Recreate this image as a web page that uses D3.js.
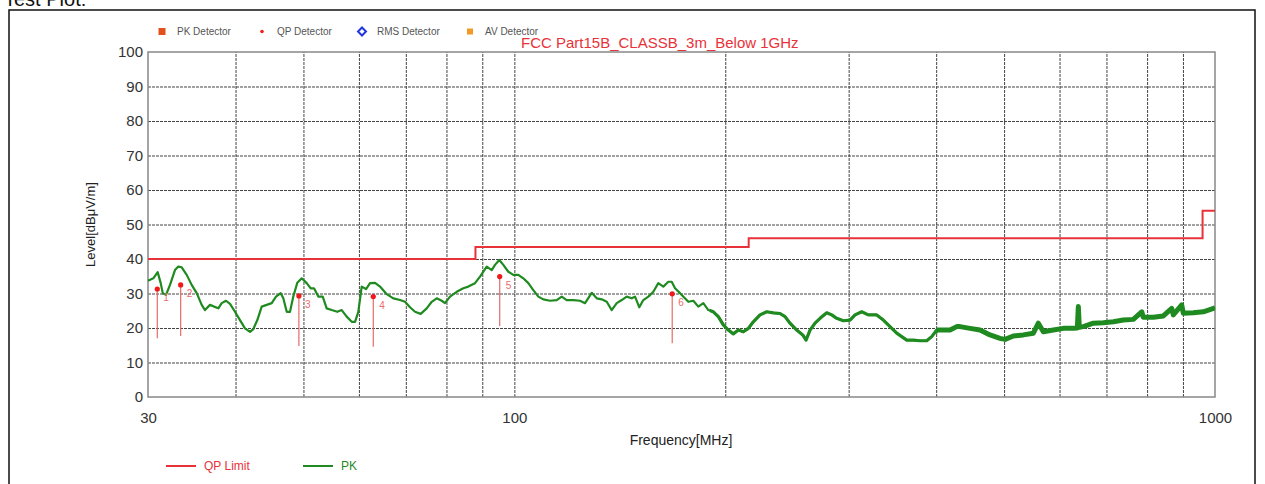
<!DOCTYPE html>
<html>
<head>
<meta charset="utf-8">
<script src="https://cdn.jsdelivr.net/npm/d3@7"></script>
<style>
body{margin:0;background:#fff;font-family:Arial,"Liberation Sans",sans-serif;}
.grid line{stroke:#444;stroke-width:1;stroke-dasharray:3,1;}
.grid path{display:none;}
.ticklabels path,.ticklabels line{display:none;}
.ticklabels text{font-size:15px;fill:#333;font-family:Arial,"Liberation Sans",sans-serif;}
</style>
</head>
<body>
<div id="chart"></div>
<script>
// limit line (QP) - FCC Part 15B class B, 3m
var limitFreq = [30, 88, 216, 960, 1000];
var limitLevel = [40, 43.5, 46, 54, 54];

// PK sweep
var pkFreq = [30.00,30.53,30.97,31.28,31.49,31.83,32.25,32.78,33.14,33.51,34.07,34.63,35.21,35.79,36.18,36.78,37.27,37.80,38.22,38.77,
  39.28,39.93,40.59,41.26,41.95,42.41,42.97,43.59,44.31,45.05,45.69,46.40,46.80,47.33,47.84,48.36,49.00,49.72,50.54,51.21,
  51.77,52.50,53.27,53.97,54.87,55.89,56.70,57.64,58.60,59.24,59.88,60.55,61.42,62.23,63.26,64.31,65.74,67.18,68.68,69.82,
  70.97,72.15,73.51,74.98,76.22,77.48,78.76,79.62,80.94,82.74,84.56,85.96,87.87,89.33,91.32,92.83,93.84,95.18,96.44,98.04,
  99.66,101.31,102.99,104.70,106.43,108.20,109.99,112.44,114.94,116.84,118.78,121.38,124.09,126.14,128.95,131.09,133.26,135.47,137.71,140.00,
  142.31,144.67,147.07,148.67,150.79,152.78,155.32,157.89,160.50,163.16,165.87,167.73,169.56,172.37,177.14,180.07,183.05,186.09,189.17,192.31,
  195.49,198.73,202.02,205.37,208.77,212.23,215.75,219.32,224.20,229.20,234.22,239.43,243.40,247.43,252.94,257.98,260.79,264.25,268.62,273.07,
  279.15,283.78,288.48,294.81,301.37,306.36,313.18,320.05,329.00,336.22,343.70,351.36,357.18,363.10,371.06,379.32,387.77,394.19,400.72,409.51,
  418.62,427.94,432.61,447.06,461.99,477.43,493.38,501.56,515.43,532.65,550.45,559.57,568.84,587.84,607.48,627.78,636.08,638.18,640.28,648.75,
  670.43,692.82,715.98,739.90,764.62,785.96,790.10,816.50,843.79,867.41,871.97,896.39,901.11,931.22,962.33,1000];
var pkLevel = [33.7,34.4,36.2,33.0,30.1,29.6,32.5,36.8,37.8,37.6,35.4,32.5,30.1,26.7,25.2,26.7,26.2,25.7,27.2,27.9,
  27.0,24.7,22.3,19.9,18.9,19.7,22.3,26.2,26.7,27.2,29.1,30.1,28.6,24.7,24.7,29.1,33.1,34.4,33.0,31.5,
  31.5,29.1,29.1,25.7,25.2,24.7,25.2,23.3,21.8,21.8,24.7,32.0,31.3,33.0,33.1,32.0,29.8,28.6,28.1,27.6,
  26.0,24.7,24.1,25.7,27.6,28.6,27.9,27.2,29.1,30.5,31.5,32.0,33.0,34.9,37.8,36.8,38.3,39.7,38.3,36.3,
  35.4,35.4,34.4,33.0,31.0,29.1,28.3,27.9,28.1,29.1,28.1,28.1,27.9,27.2,30.2,28.6,28.3,27.6,25.2,27.2,
  28.1,29.1,28.6,29.1,26.0,28.1,29.1,30.5,33.0,32.0,33.4,33.4,31.5,30.1,27.6,27.9,26.2,27.2,25.2,24.7,
  23.3,20.9,19.4,18.3,19.4,18.9,19.9,21.8,23.8,24.7,24.4,24.2,23.3,21.4,19.4,18.0,16.5,19.4,21.4,22.8,
  24.4,23.8,22.8,22.1,22.3,23.8,24.7,23.8,23.8,22.3,20.4,18.5,17.5,16.5,16.5,16.3,16.3,17.5,19.4,19.4,
  19.4,20.4,20.4,19.9,19.4,18.0,17.0,16.7,17.7,18.0,18.5,21.4,18.9,19.4,19.9,19.9,20.0,26.2,20.2,20.4,
  21.4,21.5,21.8,22.3,22.5,24.7,23.1,23.1,23.5,25.7,23.8,26.7,24.3,24.4,24.7,25.8];

// QP readings (marker 1..6): level at dot, and bottom of the drop line
var qpFreq = [30.93, 33.40, 49.26, 62.90, 95.30, 168.00];
var qpLevel = [31.3, 32.5, 29.3, 29.1, 34.9, 29.9];
var qpBase = [17.0, 17.7, 14.8, 14.6, 20.6, 15.6];

var yTicks = [0,10,20,30,40,50,60,70,80,90,100];
var xGridTicks = [40,50,60,70,80,90,100,200,300,400,500,600,700,800,900];
var xTickLabels = [30, 100, 1000];

var detectorNames = ['PK Detector','QP Detector','RMS Detector','AV Detector'];
var seriesNames = ['QP Limit','PK'];

var w = 1265, h = 484;
var plotL = 148, plotR = 1215, plotT = 52, plotB = 397;
var red = '#e8323a', green = '#1f8a1f';

var svg = d3.select('#chart').append('svg')
  .attr('width', w).attr('height', h);

// outer frame of the report box + heading
svg.append('rect')
  .attr('x', 9).attr('y', 10).attr('width', 1246).attr('height', 520)
  .attr('fill', 'none').attr('stroke', '#111').attr('stroke-width', 1.5);
svg.append('text')
  .attr('x', 4).attr('y', 6)
  .style('font-size', '20px').style('fill', '#111')
  .text('Test Plot:');

var xScale = d3.scaleLog().domain([30, 1000]).range([plotL, plotR]);
var yScale = d3.scaleLinear().domain([0, 100]).range([plotB, plotT]);

// grid
svg.append('g')
  .attr('class', 'grid')
  .attr('transform', 'translate(0,' + plotB + ')')
  .call(d3.axisBottom(xScale).tickValues(xGridTicks).tickSize(-(plotB - plotT)).tickFormat(''));
svg.append('g')
  .attr('class', 'grid')
  .attr('transform', 'translate(' + plotL + ',0)')
  .call(d3.axisLeft(yScale).tickValues(yTicks.slice(1, -1)).tickSize(-(plotR - plotL)).tickFormat(''));

// plot frame
svg.append('rect')
  .attr('x', plotL).attr('y', plotT).attr('width', plotR - plotL).attr('height', plotB - plotT)
  .attr('fill', 'none').attr('stroke', '#888').attr('stroke-width', 1.5);

// tick labels
svg.append('g')
  .attr('class', 'ticklabels')
  .attr('transform', 'translate(' + plotL + ',0)')
  .call(d3.axisLeft(yScale).tickValues(yTicks).tickSize(0).tickPadding(5));
svg.append('g')
  .attr('class', 'ticklabels')
  .attr('transform', 'translate(0,' + plotB + ')')
  .call(d3.axisBottom(xScale).tickValues(xTickLabels).tickSize(0).tickPadding(15).tickFormat(d3.format('d')));

// axis titles
svg.append('text')
  .attr('transform', 'translate(95,' + ((plotT + plotB) / 2) + ') rotate(-90)')
  .style('text-anchor', 'middle').style('font-size', '13px').style('fill', '#222')
  .text('Level[dBμV/m]');
svg.append('text')
  .attr('x', 681).attr('y', 445)
  .style('text-anchor', 'middle').style('font-size', '14px').style('fill', '#222')
  .text('Frequency[MHz]');

// clip areas for the noisy part of the sweep
var defs = svg.append('defs');
defs.append('clipPath').attr('id', 'midBand').append('rect')
  .attr('x', xScale(190)).attr('y', plotT).attr('width', xScale(400) - xScale(190)).attr('height', plotB - plotT);
defs.append('clipPath').attr('id', 'highBand').append('rect')
  .attr('x', xScale(400)).attr('y', plotT).attr('width', plotR - xScale(400)).attr('height', plotB - plotT);

var pkData = pkFreq.map(function(f, i){ return {f: f, v: pkLevel[i]}; });
var pkLine = d3.line()
  .x(function(d){ return xScale(d.f); })
  .y(function(d){ return yScale(d.v); });

svg.append('path').datum(pkData)
  .attr('d', pkLine).attr('fill', 'none')
  .attr('stroke', green).attr('stroke-width', 2.2).attr('stroke-linejoin', 'round');
svg.append('path').datum(pkData)
  .attr('d', pkLine).attr('fill', 'none').attr('clip-path', 'url(#midBand)')
  .attr('stroke', green).attr('stroke-width', 3.2).attr('stroke-linejoin', 'round');
svg.append('path').datum(pkData)
  .attr('d', pkLine).attr('fill', 'none').attr('clip-path', 'url(#highBand)')
  .attr('stroke', green).attr('stroke-width', 5).attr('stroke-linejoin', 'round');

// limit
var limitData = limitFreq.map(function(f, i){ return {f: f, v: limitLevel[i]}; });
svg.append('path').datum(limitData)
  .attr('d', d3.line().curve(d3.curveStepAfter)
    .x(function(d){ return xScale(d.f); })
    .y(function(d){ return yScale(d.v); }))
  .attr('fill', 'none').attr('stroke', red).attr('stroke-width', 2);

// QP markers
var qpData = qpFreq.map(function(f, i){ return {f: f, v: qpLevel[i], b: qpBase[i], n: i + 1}; });
svg.selectAll('qpline').data(qpData).enter().append('line')
  .attr('x1', function(d){ return xScale(d.f); })
  .attr('x2', function(d){ return xScale(d.f); })
  .attr('y1', function(d){ return yScale(d.v); })
  .attr('y2', function(d){ return yScale(d.b); })
  .attr('stroke', '#e66a6a').attr('stroke-width', 1.2);
svg.selectAll('qpdot').data(qpData).enter().append('circle')
  .attr('cx', function(d){ return xScale(d.f); })
  .attr('cy', function(d){ return yScale(d.v); })
  .attr('r', 2.6).attr('fill', '#f01818');
svg.selectAll('qplabel').data(qpData).enter().append('text')
  .attr('x', function(d){ return xScale(d.f) + 6; })
  .attr('y', function(d){ return yScale(d.v) + 12; })
  .style('font-size', '10px').style('fill', '#ee6a6a')
  .text(function(d){ return d.n; });

// detector legend on top
var detX = [162, 262, 362, 470];
var topLeg = svg.append('g');
topLeg.append('rect').attr('x', detX[0] - 3.5).attr('y', 28).attr('width', 7).attr('height', 7).attr('fill', '#e2501e');
topLeg.append('circle').attr('cx', detX[1]).attr('cy', 31.5).attr('r', 1.8).attr('fill', '#f02020');
topLeg.append('path').attr('d', 'M' + detX[2] + ',27.5 l4,4 l-4,4 l-4,-4 z')
  .attr('fill', '#fff').attr('stroke', '#2036e0').attr('stroke-width', 2);
topLeg.append('rect').attr('x', detX[3] - 3).attr('y', 28.5).attr('width', 6).attr('height', 6).attr('fill', '#f39a26');
topLeg.selectAll('dettext').data(detectorNames).enter().append('text')
  .attr('x', function(d, i){ return detX[i] + 15; })
  .attr('y', 35)
  .style('font-size', '10px').style('fill', '#555')
  .text(function(d){ return d; });

svg.append('text')
  .attr('x', 521).attr('y', 48)
  .style('font-size', '15px').style('fill', '#e8323a')
  .text('FCC Part15B_CLASSB_3m_Below 1GHz');

// series legend at the bottom
var serX = [166, 303];
var serColor = [red, green];
var leg = svg.selectAll('serleg').data(seriesNames).enter().append('g');
leg.append('line')
  .attr('x1', function(d, i){ return serX[i]; })
  .attr('x2', function(d, i){ return serX[i] + 30; })
  .attr('y1', 466).attr('y2', 466)
  .attr('stroke', function(d, i){ return serColor[i]; }).attr('stroke-width', 2);
leg.append('text')
  .attr('x', function(d, i){ return serX[i] + 38; })
  .attr('y', 470)
  .style('font-size', '12px')
  .style('fill', function(d, i){ return serColor[i]; })
  .text(function(d){ return d; });
</script>
</body>
</html>
